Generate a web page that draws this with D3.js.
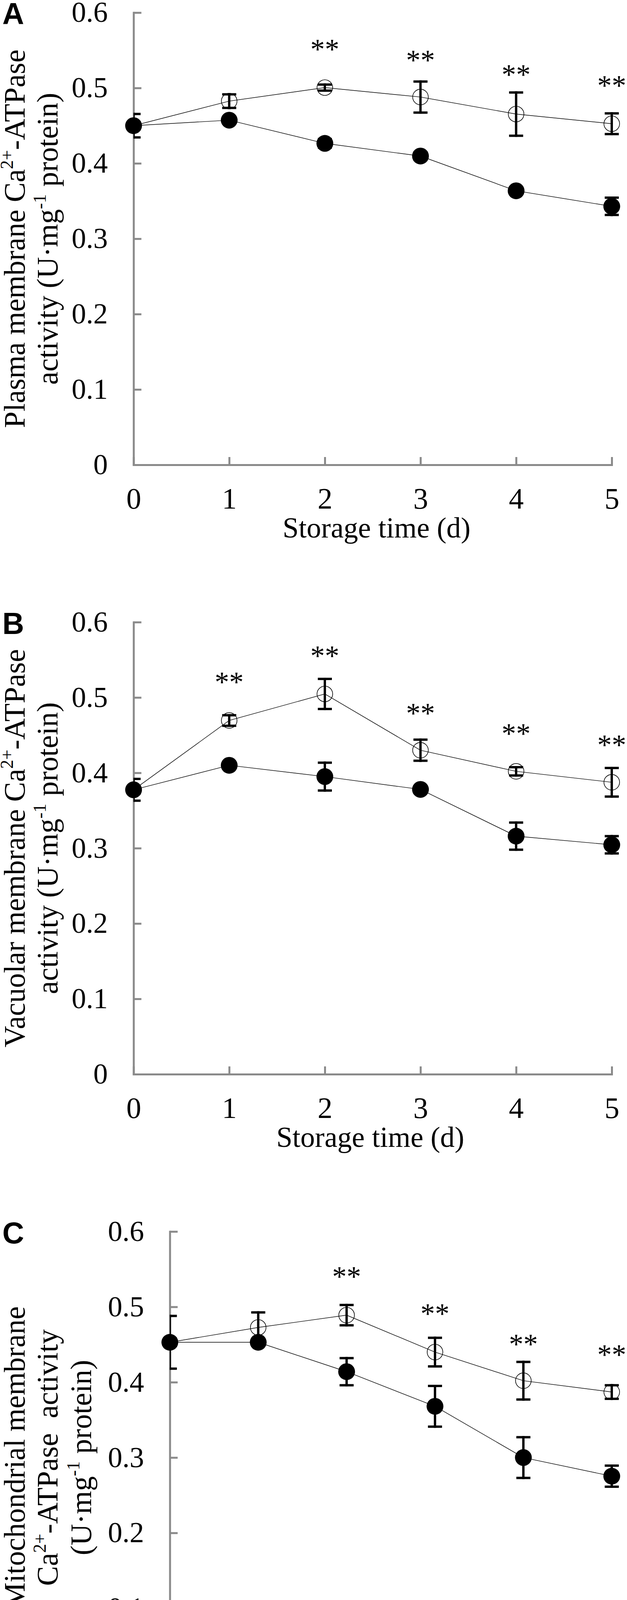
<!DOCTYPE html>
<html>
<head>
<meta charset="utf-8">
<script src="https://cdn.jsdelivr.net/npm/d3@7"></script>
<style>
  html, body { margin: 0; padding: 0; background: #fff; }
  svg { display: block; }
</style>
</head>
<body>
<svg id="chart" width="1604" height="4516"></svg>
<script>
// ---------------- DATA ----------------
const days = [0, 1, 2, 3, 4, 5];
const xTickLabels = ["0", "1", "2", "3", "4", "5"];
const yTickValues = [0, 0.1, 0.2, 0.3, 0.4, 0.5, 0.6];
const yTickLabels = ["0", "0.1", "0.2", "0.3", "0.4", "0.5", "0.6"];
const xAxisTitle = "Storage time (d)";

// Panel A: plasma membrane
const plasmaOpen      = [0.450, 0.4826, 0.5005, 0.488, 0.4654, 0.4526];
const plasmaOpenErr   = [0.005, 0.009, 0.004, 0.0206, 0.0287, 0.0137];
const plasmaFilled    = [0.450, 0.4573, 0.4265, 0.4097, 0.3636, 0.343];
const plasmaFilledErr = [0.0155, 0.003, 0.0057, 0.005, 0.004, 0.0115];
const plasmaSigDays   = [2, 3, 4, 5];
const plasmaSigY      = [0.5566, 0.5421, 0.5227, 0.5084];

// Panel B: vacuolar membrane
const vacuolarOpen      = [0.3775, 0.4695, 0.5047, 0.430, 0.402, 0.3875];
const vacuolarOpenErr   = [0.005, 0.007, 0.020, 0.014, 0.0055, 0.019];
const vacuolarFilled    = [0.3775, 0.410, 0.395, 0.378, 0.316, 0.3045];
const vacuolarFilledErr = [0.0145, 0.003, 0.0185, 0.004, 0.018, 0.0115];
const vacuolarSigDays   = [1, 2, 3, 4, 5];
const vacuolarSigY      = [0.5255, 0.5603, 0.4843, 0.4575, 0.442];

// Panel C: mitochondrial membrane
const mitoOpen      = [0.453, 0.4727, 0.489, 0.440, 0.402, 0.387];
const mitoOpenErr   = [0.005, 0.020, 0.0135, 0.019, 0.025, 0.009];
const mitoFilled    = [0.453, 0.453, 0.414, 0.368, 0.300, 0.2753];
const mitoFilledErr = [0.035, 0.004, 0.018, 0.027, 0.027, 0.014];
const mitoSigDays   = [2, 3, 4, 5];
const mitoSigY      = [0.5455, 0.496, 0.4556, 0.4416];

// y-axis title lines: arrays of [text, isSuperscript]
const plasmaTitle = [
  [["Plasma membrane Ca", false], ["2+", true], ["-ATPase", false]],
  [["activity (U·mg", false], ["-1", true], [" protein)", false]]
];
const vacuolarTitle = [
  [["Vacuolar membrane Ca", false], ["2+", true], ["-ATPase", false]],
  [["activity (U·mg", false], ["-1", true], [" protein)", false]]
];
const mitoTitle = [
  [["Mitochondrial membrane", false]],
  [["Ca", false], ["2+", true], ["-ATPase  activity", false]],
  [["(U·mg", false], ["-1", true], [" protein)", false]]
];

// ---------------- LAYOUT ----------------
const SERIF = "'Liberation Serif', 'Times New Roman', Times, serif";
const SANS = "'Liberation Sans', Arial, Helvetica, sans-serif";
const AXIS_COLOR = "#8a8a8a";

const panels = [
  { letter: "A", top: 32.3, bottom: 1190, left: 341.7, right: 1565, titleLines: plasmaTitle, titleX: [63, 147], xTitleDx: 10,
    open: plasmaOpen, openErr: plasmaOpenErr, filled: plasmaFilled, filledErr: plasmaFilledErr, sigDays: plasmaSigDays, sigY: plasmaSigY },
  { letter: "B", top: 1592.7, bottom: 2750, left: 341.7, right: 1565, titleLines: vacuolarTitle, titleX: [63, 147], xTitleDx: -6,
    open: vacuolarOpen, openErr: vacuolarOpenErr, filled: vacuolarFilled, filledErr: vacuolarFilledErr, sigDays: vacuolarSigDays, sigY: vacuolarSigY },
  { letter: "C", top: 3152.7, bottom: 4310, left: 434.5, right: 1565, titleLines: mitoTitle, titleX: [63, 147, 233], xTitleDx: -2,
    open: mitoOpen, openErr: mitoOpenErr, filled: mitoFilled, filledErr: mitoFilledErr, sigDays: mitoSigDays, sigY: mitoSigY }
];

const svg = d3.select("#chart");
const defs = svg.append("defs");

panels.forEach((p, pi) => {
  const g = svg.append("g");
  const x = d3.scaleLinear().domain([0, 5]).range([p.left, p.right]);
  const y = d3.scaleLinear().domain([0, 0.6]).range([p.bottom, p.top]);

  // clip for error bars (cut at the y axis)
  const clipId = "clip" + pi;
  defs.append("clipPath").attr("id", clipId)
    .append("rect").attr("x", p.left).attr("y", p.top - 200)
    .attr("width", 1604 - p.left).attr("height", p.bottom - p.top + 400);

  // panel letter
  g.append("text")
    .attr("x", 6).attr("y", p.top + 30)
    .attr("font-family", SANS).attr("font-weight", "bold")
    .attr("font-size", 77).attr("fill", "#000")
    .text(p.letter);

  // Y axis
  const yAxis = d3.axisLeft(y)
    .tickValues(yTickValues)
    .tickFormat((d, i) => yTickLabels[i])
    .tickSizeInner(-20).tickSizeOuter(0).tickPadding(66);
  const yg = g.append("g").attr("transform", `translate(${p.left},0)`).call(yAxis);
  yg.attr("color", AXIS_COLOR);
  yg.select(".domain").attr("stroke-width", 5).attr("stroke-linecap", "square");
  yg.selectAll(".tick line").attr("stroke-width", 5);
  yg.selectAll(".tick text").attr("fill", "#000")
    .attr("font-family", SERIF).attr("font-size", 74);

  // X axis
  const xAxis = d3.axisBottom(x)
    .tickValues(days)
    .tickFormat((d, i) => xTickLabels[i])
    .tickSizeInner(-20).tickSizeOuter(0).tickPadding(58);
  const xg = g.append("g").attr("transform", `translate(0,${p.bottom})`).call(xAxis);
  xg.attr("color", AXIS_COLOR);
  xg.select(".domain").attr("stroke-width", 5).attr("stroke-linecap", "square");
  xg.selectAll(".tick line").attr("stroke-width", 5);
  xg.selectAll(".tick text").attr("fill", "#000")
    .attr("font-family", SERIF).attr("font-size", 76);

  // X axis title
  g.append("text")
    .attr("x", (p.left + p.right) / 2 + p.xTitleDx)
    .attr("y", p.bottom + 186)
    .attr("text-anchor", "middle")
    .attr("font-family", SERIF).attr("font-size", 74).attr("fill", "#000")
    .text(xAxisTitle);

  // Y axis title lines (rotated)
  const cy = (p.top + p.bottom) / 2;
  p.titleLines.forEach((line, li) => {
    const t = g.append("text")
      .attr("transform", `translate(${p.titleX[li]},${cy}) rotate(-90)`)
      .attr("text-anchor", "middle")
      .attr("font-family", SERIF).attr("font-size", 76).attr("fill", "#000")
      .style("white-space", "pre");
    let shifted = false;
    line.forEach(([txt, sup]) => {
      const ts = t.append("tspan").text(txt);
      if (sup) {
        ts.attr("font-size", 46).attr("dy", -30);
        shifted = true;
      } else if (shifted) {
        ts.attr("dy", 30);
        shifted = false;
      }
    });
  });

  // series lines
  const line = d3.line().x((d, i) => x(days[i])).y(d => y(d));
  g.append("path").datum(p.open).attr("d", line)
    .attr("fill", "none").attr("stroke", "#000").attr("stroke-width", 1.4);
  g.append("path").datum(p.filled).attr("d", line)
    .attr("fill", "none").attr("stroke", "#000").attr("stroke-width", 1.4);

  // open markers
  g.append("g").selectAll("circle").data(p.open).join("circle")
    .attr("cx", (d, i) => x(days[i])).attr("cy", d => y(d)).attr("r", 20)
    .attr("fill", "none").attr("stroke", "#000").attr("stroke-width", 1.6);

  // filled markers
  g.append("g").selectAll("circle").data(p.filled).join("circle")
    .attr("cx", (d, i) => x(days[i])).attr("cy", d => y(d)).attr("r", 21.5)
    .attr("fill", "#000");

  // error bars
  function errorBars(vals, errs) {
    const eg = g.append("g").attr("clip-path", `url(#${clipId})`)
      .attr("stroke", "#000").attr("stroke-width", 6).attr("fill", "none");
    vals.forEach((v, i) => {
      const cx = x(days[i]);
      const y1 = y(v + errs[i]), y2 = y(v - errs[i]);
      eg.append("line").attr("x1", cx).attr("x2", cx).attr("y1", y1 - 3).attr("y2", y2 + 3);
      eg.append("line").attr("x1", cx - 18).attr("x2", cx + 18).attr("y1", y1).attr("y2", y1);
      eg.append("line").attr("x1", cx - 18).attr("x2", cx + 18).attr("y1", y2).attr("y2", y2);
    });
  }
  errorBars(p.open, p.openErr);
  errorBars(p.filled, p.filledErr);

  // significance asterisks
  g.append("g").selectAll("text").data(p.sigDays).join("text")
    .attr("x", d => x(d))
    .attr("y", (d, i) => y(p.sigY[i]) + 35)
    .attr("text-anchor", "middle")
    .attr("font-family", SERIF).attr("font-size", 74).attr("fill", "#000")
    .text("**");
});
</script>
</body>
</html>
